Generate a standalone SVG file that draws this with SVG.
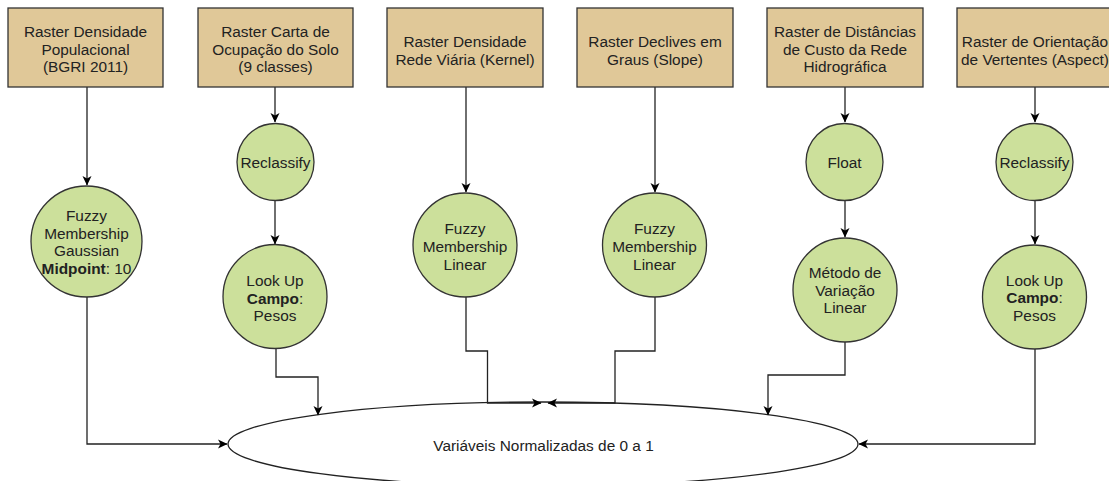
<svg xmlns="http://www.w3.org/2000/svg" width="1109" height="481" viewBox="0 0 1109 481">
<defs>
<marker id="arr" viewBox="0 0 10 10" refX="9" refY="5" markerWidth="10" markerHeight="10" markerUnits="userSpaceOnUse" orient="auto">
<path d="M0,0.5 L9.5,5 L0,9.5 L2.5,5 Z" fill="#000"/>
</marker>
</defs>
<style>
.box{fill:#E0C898;stroke:#333;stroke-width:1.3}
.cir{fill:#CCE09B;stroke:#333;stroke-width:1.3}
.ell{fill:#fff;stroke:#222;stroke-width:1.3}
.t{font-family:"Liberation Sans",Arial,sans-serif;font-size:15.4px;fill:#222;text-anchor:middle}
.b{font-weight:bold}
.c{fill:none;stroke:#222;stroke-width:1.3}
</style>
<rect width="1109" height="481" fill="#fff"/>
<g id="ellipse-out">
<ellipse class="ell" cx="543" cy="444" rx="315" ry="42"/>
<text class="t" x="543.5" y="451">Variáveis Normalizadas de 0 a 1</text>
</g>
<g id="connectors">
<path class="c" d="M87,87 V185" marker-end="url(#arr)"/>
<path class="c" d="M275,87 V122" marker-end="url(#arr)"/>
<path class="c" d="M275,201 V244" marker-end="url(#arr)"/>
<path class="c" d="M466,87 V192" marker-end="url(#arr)"/>
<path class="c" d="M655,87 V192" marker-end="url(#arr)"/>
<path class="c" d="M845,87 V122" marker-end="url(#arr)"/>
<path class="c" d="M845,201 V237" marker-end="url(#arr)"/>
<path class="c" d="M1035,87 V122" marker-end="url(#arr)"/>
<path class="c" d="M1035,201 V244" marker-end="url(#arr)"/>
<path class="c" d="M87,297 V444 H227" marker-end="url(#arr)"/>
<path class="c" d="M276,348 V377 H318 V415" marker-end="url(#arr)"/>
<path class="c" d="M466,297 V351 H487.5 V403 H541" marker-end="url(#arr)"/>
<path class="c" d="M655,297 V351 H615 V403 H548" marker-end="url(#arr)"/>
<path class="c" d="M845,342 V375 H768 V415" marker-end="url(#arr)"/>
<path class="c" d="M1035,349 V444 H859" marker-end="url(#arr)"/>
</g>
<g id="box1">
<rect class="box" x="8" y="8" width="155" height="79"/>
<text class="t" x="85.5" y="37">Raster Densidade</text>
<text class="t" x="85.5" y="55">Populacional</text>
<text class="t" x="85.5" y="72">(BGRI 2011)</text>
</g>
<g id="box2">
<rect class="box" x="198" y="8" width="155" height="79"/>
<text class="t" x="275.5" y="37">Raster Carta de</text>
<text class="t" x="275.5" y="55">Ocupação do Solo</text>
<text class="t" x="275.5" y="72">(9 classes)</text>
</g>
<g id="box3">
<rect class="box" x="387" y="8" width="156" height="79"/>
<text class="t" x="465" y="46.5">Raster Densidade</text>
<text class="t" x="465" y="64.5">Rede Viária (Kernel)</text>
</g>
<g id="box4">
<rect class="box" x="577" y="8" width="156" height="79"/>
<text class="t" x="655" y="46.5">Raster Declives em</text>
<text class="t" x="655" y="64.5">Graus (Slope)</text>
</g>
<g id="box5">
<rect class="box" x="767" y="8" width="156" height="79"/>
<text class="t" x="845" y="37">Raster de Distâncias</text>
<text class="t" x="845" y="55">de Custo da Rede</text>
<text class="t" x="845" y="72">Hidrográfica</text>
</g>
<g id="box6">
<rect class="box" x="957" y="8" width="156" height="79"/>
<text class="t" x="1035" y="46.5">Raster de Orientação</text>
<text class="t" x="1035" y="64.5">de Vertentes (Aspect)</text>
</g>
<g id="fuzzy-gaussian">
<circle class="cir" cx="86.5" cy="241.5" r="55.5"/>
<text class="t" x="86.5" y="221">Fuzzy</text>
<text class="t" x="86.5" y="238.5">Membership</text>
<text class="t" x="86.5" y="256">Gaussian</text>
<text class="t" x="86.5" y="274"><tspan class="b">Midpoint</tspan>: 10</text>
</g>
<g id="reclassify1">
<circle class="cir" cx="275.5" cy="162" r="38.5"/>
<text class="t" x="275.5" y="168">Reclassify</text>
</g>
<g id="lookup1">
<circle class="cir" cx="275" cy="296.5" r="52"/>
<text class="t" x="275" y="286">Look Up</text>
<text class="t" x="275" y="303.5"><tspan class="b">Campo</tspan>:</text>
<text class="t" x="275" y="321">Pesos</text>
</g>
<g id="fuzzy-linear1">
<circle class="cir" cx="465" cy="245" r="52"/>
<text class="t" x="465" y="233.5">Fuzzy</text>
<text class="t" x="465" y="251.5">Membership</text>
<text class="t" x="465" y="269.5">Linear</text>
</g>
<g id="fuzzy-linear2">
<circle class="cir" cx="654.5" cy="245" r="52"/>
<text class="t" x="654.5" y="233.5">Fuzzy</text>
<text class="t" x="654.5" y="251.5">Membership</text>
<text class="t" x="654.5" y="269.5">Linear</text>
</g>
<g id="float">
<circle class="cir" cx="844.5" cy="162" r="38.5"/>
<text class="t" x="844.5" y="168">Float</text>
</g>
<g id="metodo">
<circle class="cir" cx="845" cy="290" r="52"/>
<text class="t" x="845" y="277.5">Método de</text>
<text class="t" x="845" y="295.5">Variação</text>
<text class="t" x="845" y="313">Linear</text>
</g>
<g id="reclassify2">
<circle class="cir" cx="1034.5" cy="162" r="38.5"/>
<text class="t" x="1034.5" y="168">Reclassify</text>
</g>
<g id="lookup2">
<circle class="cir" cx="1034.5" cy="297" r="52"/>
<text class="t" x="1034.5" y="285.5">Look Up</text>
<text class="t" x="1034.5" y="303"><tspan class="b">Campo</tspan>:</text>
<text class="t" x="1034.5" y="320.5">Pesos</text>
</g>
</svg>
